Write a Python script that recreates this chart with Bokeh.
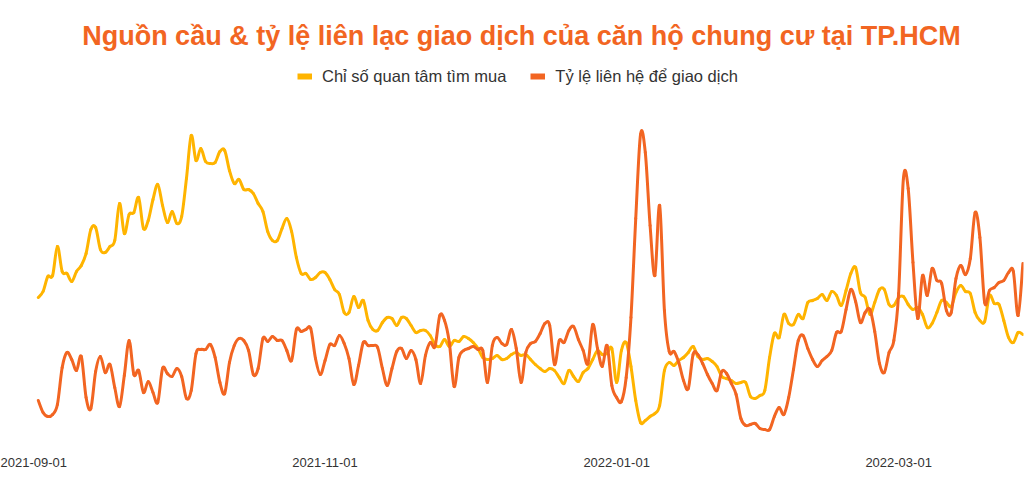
import numpy as np
import pandas as pd
from bokeh.plotting import figure
from bokeh.models import Range1d, Legend, LegendItem, Label, FixedTicker, ColumnDataSource
from bokeh.embed import file_html
from bokeh.resources import INLINE

# ---------------- data ----------------
first_day = "2021-09-02"
series_names = ["Chỉ số quan tâm tìm mua", "Tỷ lệ liên hệ để giao dịch"]
title_text = "Nguồn cầu & tỷ lệ liên lạc giao dịch của căn hộ chung cư tại TP.HCM"
tick_labels = ["2021-09-01", "2021-11-01", "2022-01-01", "2022-03-01"]

interest = [
    143, 149, 164, 165, 194, 169, 167, 159, 169, 175,
    187, 211, 213, 191, 188, 194, 200, 237, 207, 226,
    228, 243, 212, 220, 241, 256, 235, 218, 229, 217,
    224, 262, 305, 280, 292, 279, 277, 278, 289, 290,
    270, 257, 261, 251, 251, 247, 237, 229, 209, 200,
    200, 212, 222, 209, 183, 167, 167, 161, 163, 168,
    168, 161, 151, 146, 128, 128, 144, 133, 140, 120,
    111, 110, 118, 123, 122, 115, 123, 122, 115, 108,
    110, 110, 105, 96, 94, 101, 94, 100, 99, 104,
    102, 98, 92, 83, 81, 82, 85, 81, 82, 86,
    88, 85, 86, 81, 76, 72, 69, 72, 70, 63,
    57, 70, 64, 59, 68, 72, 81, 90, 86, 87,
    92, 58, 90, 98, 74, 40, 18, 20, 24, 27,
    35, 70, 78, 75, 80, 83, 88, 94, 84, 81,
    82, 79, 74, 64, 62, 60, 57, 58, 58, 44,
    42, 45, 50, 83, 107, 103, 126, 117, 116, 126,
    122, 138, 140, 142, 146, 140, 149, 145, 135, 150,
    167, 173, 148, 143, 126, 138, 151, 151, 136, 135,
    143, 144, 136, 131, 133, 126, 113, 117, 128, 140,
    138, 134, 148, 155, 149, 147, 128, 120, 119, 145,
    137, 136, 120, 103, 98, 108, 106,
]

contact = [
    40, 28, 24, 26, 36, 73, 88, 81, 70, 84,
    43, 32, 69, 84, 68, 76, 53, 34, 65, 100,
    66, 70, 48, 59, 48, 38, 72, 67, 64, 72,
    64, 42, 50, 87, 91, 91, 96, 83, 58, 47,
    78, 95, 102, 100, 90, 66, 72, 102, 99, 104,
    100, 100, 90, 80, 111, 109, 111, 112, 82, 66,
    80, 96, 95, 105, 97, 82, 56, 75, 98, 95,
    95, 93, 72, 55, 72, 89, 92, 82, 90, 81,
    57, 85, 98, 94, 125, 120, 98, 54, 83, 90,
    92, 94, 91, 90, 58, 95, 103, 97, 96, 111,
    92, 58, 88, 97, 99, 107, 117, 115, 76, 100,
    98, 110, 114, 101, 90, 77, 116, 92, 74, 95,
    55, 43, 39, 63, 123, 222, 306, 288, 215, 165,
    235, 130, 89, 89, 78, 60, 52, 86, 86, 77,
    66, 57, 50, 69, 67, 57, 46, 22, 15, 16,
    17, 12, 11, 11, 24, 33, 26, 43, 71, 100,
    105, 92, 81, 74, 80, 84, 90, 108, 109, 131,
    151, 139, 118, 128, 131, 109, 77, 68, 88, 100,
    147, 262, 252, 178, 122, 165, 145, 172, 160, 157,
    130, 128, 162, 175, 166, 182, 228, 203, 138, 150,
    153, 158, 160, 168, 169, 125, 177,
]

YELLOW = "#FFB400"
ORANGE = "#F26522"
TEXT = "#333333"
FONT = "Liberation Sans"

dates = pd.date_range(first_day, periods=len(interest), freq="D")
xms = dates.values.astype("datetime64[ms]").astype(np.int64).astype(float)


def smooth_segments(xs, ys, k=1.0 / 6.0):
    """Catmull-Rom style cubic segments through the data points (rendering only)."""
    ys = np.asarray(ys, dtype=float)
    n = len(xs)
    xp = np.concatenate([[xs[0]], xs, [xs[-1]]])
    yp = np.concatenate([[ys[0]], ys, [ys[-1]]])
    i = np.arange(n - 1)
    x0, y0 = xs[i], ys[i]
    x1, y1 = xs[i + 1], ys[i + 1]
    cx0 = x0 + (xp[i + 2] - xp[i]) * k
    cy0 = y0 + (yp[i + 2] - yp[i]) * k
    cx1 = x1 - (xp[i + 3] - xp[i + 1]) * k
    cy1 = y1 - (yp[i + 3] - yp[i + 1]) * k
    return ColumnDataSource(dict(x0=x0, y0=y0, x1=x1, y1=y1,
                                 cx0=cx0, cy0=cy0, cx1=cx1, cy1=cy1))


x0 = pd.Timestamp(tick_labels[0])
x1 = dates[-1] + pd.Timedelta(hours=3)

p = figure(
    width=1024, height=480,
    x_axis_type="datetime", y_axis_location=None,
    x_range=Range1d(x0, x1), y_range=Range1d(0, 440),
    output_backend="svg", toolbar_location=None,
    min_border_left=33, min_border_right=1,
    min_border_top=0, min_border_bottom=40,
)
p.outline_line_color = None
p.grid.visible = False
p.background_fill_color = "white"
p.border_fill_color = "white"

for vals, col in ((interest, YELLOW), (contact, ORANGE)):
    p.bezier(x0="x0", y0="y0", x1="x1", y1="y1", cx0="cx0", cy0="cy0",
             cx1="cx1", cy1="cy1", source=smooth_segments(xms, vals),
             line_color=col, line_width=3, line_cap="round")

# x axis
tick_ms = [pd.Timestamp(t).value // 10**6 for t in tick_labels]
ax = p.xaxis[0]
ax.ticker = FixedTicker(ticks=tick_ms)
ax.major_label_overrides = {ms: lab for ms, lab in zip(tick_ms, tick_labels)}
ax.axis_line_color = None
ax.major_tick_line_color = None
ax.minor_tick_line_color = None
ax.major_tick_out = 0
ax.major_tick_in = 0
ax.major_label_standoff = 17
ax.major_label_text_font = FONT
ax.major_label_text_font_size = "13px"
ax.major_label_text_color = TEXT

# title
p.add_layout(Label(
    x=488, y=405, x_units="screen", y_units="screen",
    text=title_text, text_align="center", text_baseline="middle",
    text_font=FONT, text_font_style="bold", text_font_size="27px",
    text_color=ORANGE,
))

# legend (swatch renderers hold a single empty value so nothing is drawn in the frame)
sw1 = p.line(x=[x0], y=[float("nan")], line_color=YELLOW, line_width=6, line_cap="butt")
sw2 = p.line(x=[x0], y=[float("nan")], line_color=ORANGE, line_width=6, line_cap="butt")
legend = Legend(
    items=[LegendItem(label=series_names[0], renderers=[sw1]),
           LegendItem(label=series_names[1], renderers=[sw2])],
    orientation="horizontal", location=(264, 354),
    glyph_width=15, glyph_height=20, label_standoff=10, spacing=24,
    padding=0, margin=0, border_line_color=None, background_fill_alpha=0,
    label_text_font=FONT, label_text_font_size="16.5px", label_text_color=TEXT,
)
p.add_layout(legend)

open("out.html", "w").write(file_html(p, INLINE))
